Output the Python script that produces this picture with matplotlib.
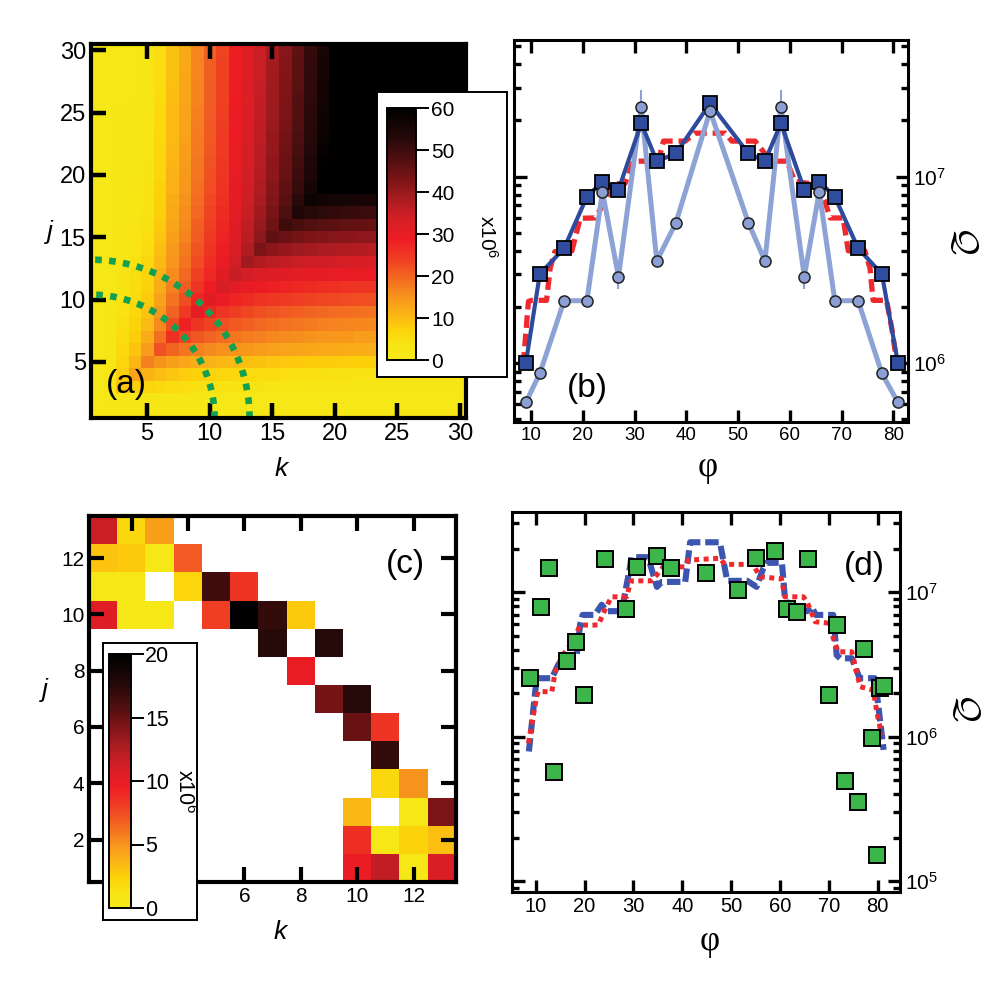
import numpy as np
import matplotlib
matplotlib.use('Agg')
import matplotlib.pyplot as plt
import matplotlib.colors as mcolors
from matplotlib.ticker import NullFormatter

plt.rcParams['font.family'] = ['Liberation Sans', 'DejaVu Sans']
plt.rcParams['mathtext.default'] = 'regular'

# ---------------- data ----------------
# (a) Q map in units of 1e6
# value in column k near the top edge (cells above the diagonal)
col_top = [1.5, 1.5, 1.5, 1.5, 2, 5, 9, 12, 16, 20, 23, 28, 31, 34, 38,
           41, 45, 50, 54, 62, 62, 62, 62, 62, 62, 62, 62, 62, 62, 62]
# value in row j far to the right (cells below the diagonal)
row_edge = [1.5, 1.5, 2, 3.5, 7, 11, 13, 15, 17, 21, 24, 28, 31, 35, 39,
            43, 48, 54, 62, 62, 62, 62, 62, 62, 62, 62, 62, 62, 62, 62]
# value on the diagonal j = k
diag = [1.5, 2, 9, 13, 17, 22, 26, 28, 30, 31, 33, 35, 39, 43, 46,
        50, 54, 57, 62, 62, 62, 62, 62, 62, 62, 62, 62, 62, 62, 62]
# how much of the diagonal excess is left at distance |j-k|
fade = [1, .8, .65, .55, .47, .4, .35, .3, .26, .22, .19, .16, .14, .12, .1,
        .08, .07, .06, .05, .04, .03, .02, .02, .01, .01, 0, 0, 0, 0, 0]
arc_radii = [9.9, 12.7]

# (b)
b_phi = [9.0, 11.7, 16.4, 20.8, 23.8, 26.9, 31.3, 34.3, 38.0, 44.6,
         52.0, 55.2, 58.3, 62.8, 65.7, 68.7, 73.2, 77.8, 80.9]
b_sq = [1.0e6, 3.0e6, 4.13e6, 7.8e6, 9.4e6, 8.5e6, 1.93e7, 1.21e7, 1.33e7, 2.47e7,
        1.33e7, 1.21e7, 1.93e7, 8.5e6, 9.4e6, 7.8e6, 4.13e6, 3.0e6, 1.0e6]
b_circ = [6.15e5, 8.8e5, 2.16e6, 2.16e6, 8.3e6, 2.91e6, 2.37e7, 3.53e6, 5.66e6, 2.25e7,
          5.66e6, 3.53e6, 2.37e7, 2.91e6, 8.3e6, 2.16e6, 2.16e6, 8.8e5, 6.15e5]
b_err_phi = [31.3, 58.3, 26.9, 62.8]
b_err_lo = [2.37e7, 2.37e7, 2.5e6, 2.5e6]
b_err_hi = [2.9e7, 2.9e7, 2.91e6, 2.91e6]
b_red_phi = [8.5, 9.5, 10.1, 13.0, 13.7, 14.6, 17.9, 19.5, 22.4, 24.3, 25.6, 28.2,
             29.8, 34.6, 35.6, 39.8, 41.7, 47.5, 48.8, 53.3, 54.9, 56.5, 59.4, 61.0,
             64.9, 66.8, 67.8, 70.3, 71.3, 74.5, 75.5, 76.1, 78.7, 79.7, 80.7]
b_red_q = [9.8e5, 2.14e6, 2.17e6, 2.17e6, 3.23e6, 3.96e6, 4.0e6, 5.98e6, 6.0e6, 7.35e6,
           9.1e6, 9.2e6, 1.21e7, 1.21e7, 1.55e7, 1.55e7, 1.71e7, 1.71e7, 1.55e7, 1.55e7,
           1.36e7, 1.21e7, 1.21e7, 9.4e6, 9.1e6, 7.35e6, 6.0e6, 6.0e6, 4.0e6, 4.0e6,
           3.23e6, 2.17e6, 2.17e6, 1.54e6, 1.0e6]

# (c) sparse Q map, units of 1e6
c_k = [1, 2, 3, 1, 2, 3, 4, 1, 2, 4, 5, 6, 1, 2, 3, 5, 6, 7, 8, 7, 9, 8,
       9, 10, 10, 11, 11, 11, 12, 10, 12, 13, 10, 11, 12, 13, 10, 11, 12, 13]
c_j = [13, 13, 13, 12, 12, 12, 12, 11, 11, 11, 11, 11, 10, 10, 10, 10, 10, 10, 10, 9, 9, 8,
       7, 7, 6, 6, 5, 4, 4, 3, 3, 3, 2, 2, 2, 2, 1, 1, 1, 1]
c_val = [11.5, 2, 4.5, 3, 2.8, 0.5, 7, 0.5, 0.5, 2.2, 16.5, 8.5, 10.5, 0.5, 0.5, 8, 20, 17, 2.8,
         17.5, 17.5, 9.8, 14.5, 17.5, 15, 8.5, 17, 2, 5, 3.5, 0.5, 14.3, 8.8, 0.5, 2.3, 3.2,
         9.7, 11.8, 0.5, 10.8]

# (d)
d_phi = [8.8, 11.1, 12.8, 13.8, 16.4, 18.2, 19.9, 24.2, 28.4, 30.7, 34.8, 37.7, 44.9,
         51.5, 55.0, 59.0, 61.4, 63.4, 65.7, 70.0, 71.6, 73.3, 76.0, 77.1, 78.8, 79.8,
         80.5, 81.2]
d_q = [2.56e6, 7.95e6, 1.47e7, 5.66e5, 3.36e6, 4.55e6, 1.94e6, 1.70e7, 7.66e6, 1.49e7,
       1.77e7, 1.47e7, 1.35e7, 1.04e7, 1.72e7, 1.94e7, 7.66e6, 7.35e6, 1.70e7, 1.94e6,
       5.93e6, 4.92e5, 3.51e5, 4.05e6, 9.73e5, 1.51e5, 2.18e6, 2.26e6]
d_blue_phi = [8.6, 10.0, 10.3, 13.3, 14.3, 15.3, 17.7, 18.4, 19.1, 19.6, 22.1, 23.5, 24.5,
              27.6, 29.3, 29.6, 33.0, 34.8, 35.8, 40.6, 41.6, 47.7, 49.2, 53.3, 55.2, 56.6,
              57.2, 60.4, 61.0, 62.5, 65.5, 66.5, 67.3, 70.9, 71.6, 72.3, 74.7, 76.3, 79.4,
              80.1, 81.2]
d_blue_q = [7.9e5, 2.2e6, 2.54e6, 2.54e6, 3.0e6, 3.49e6, 3.49e6, 3.67e6, 6.0e6, 6.97e6,
            6.97e6, 8.2e6, 7.4e6, 7.4e6, 1.5e7, 1.75e7, 1.75e7, 1.09e7, 1.18e7, 1.18e7,
            2.22e7, 2.22e7, 1.2e7, 1.2e7, 1.09e7, 1.47e7, 1.6e7, 1.6e7, 9.1e6, 7.4e6,
            7.4e6, 7.95e6, 6.97e6, 6.97e6, 3.67e6, 3.49e6, 3.49e6, 2.54e6, 2.54e6,
            1.66e6, 8.1e5]
d_red_phi = [8.5, 10.2, 10.5, 13.3, 14.0, 15.3, 17.5, 19.1, 22.8, 24.2, 25.5, 28.6, 29.5,
             33.7, 34.8, 36.1, 40.5, 41.2, 47.7, 48.7, 54.5, 55.9, 60.3, 61.0, 64.8, 65.6,
             67.2, 70.2, 70.9, 71.9, 74.7, 76.4, 79.1, 79.8, 80.8]
d_red_q = [9.0e5, 1.89e6, 2.05e6, 2.05e6, 2.82e6, 3.58e6, 4.5e6, 5.93e6, 5.93e6, 7.6e6,
           9.3e6, 9.3e6, 1.2e7, 1.2e7, 1.32e7, 1.5e7, 1.5e7, 1.67e7, 1.72e7, 1.56e7,
           1.56e7, 1.28e7, 1.24e7, 9.3e6, 9.3e6, 8.5e6, 6.25e6, 6.1e6, 4.8e6, 3.87e6,
           3.87e6, 2.22e6, 2.1e6, 1.49e6, 1.03e6]

# ---------------- style ----------------
cmap = mcolors.LinearSegmentedColormap.from_list('yrk', [
    (0.00, '#f5e91a'), (0.06, '#f9e413'), (0.12, '#fdd20a'), (0.18, '#fbb416'),
    (0.25, '#f7941d'), (0.33, '#f26522'), (0.40, '#ef3e23'), (0.48, '#ed1c24'),
    (0.56, '#d41f26'), (0.64, '#a81c21'), (0.72, '#7a1416'), (0.80, '#4e0f10'),
    (0.88, '#260909'), (1.00, '#000000')])
dark_blue = '#2d4a9c'
light_blue = '#8ea3d5'
red = '#ee2a2f'
green = '#3cb54a'
arc_green = '#13a050'


def style_axes(ax, lw=2.2, size=14, length=9, width=2.4):
    for s in ax.spines.values():
        s.set_linewidth(lw)
    ax.tick_params(which='both', direction='in', top=True, right=True,
                   labelsize=size, width=width)
    ax.tick_params(which='major', length=length)
    ax.tick_params(which='minor', length=length * 0.55)


def add_cbar(fig, im, box_rect, bar_rect, ticks, label_xy, size, pad=2):
    box = fig.add_axes(box_rect)
    box.set_xticks([])
    box.set_yticks([])
    for s in box.spines.values():
        s.set_linewidth(1.4)
    box.set_zorder(5)
    cax = fig.add_axes(bar_rect)
    cax.set_zorder(6)
    cb = fig.colorbar(im, cax=cax, ticks=ticks)
    cb.outline.set_linewidth(1.4)
    cb.ax.tick_params(labelsize=size, length=9, width=1.4, pad=pad)
    fig.text(label_xy[0], label_xy[1], 'x10$^{6}$', rotation=-90, ha='center',
             va='center', fontsize=size, zorder=10)


fig = plt.figure(figsize=(10, 10), dpi=100)

# ---------------- (a) ----------------
n = len(col_top)
grid_a = np.zeros((n, n))
for j in range(n):
    for k in range(n):
        m = min(j, k)
        base = col_top[m] if j > k else row_edge[m]
        grid_a[j, k] = base + (diag[m] - base) * fade[abs(j - k)]

ax_a = fig.add_axes([0.0907, 0.582, 0.3753, 0.374])
im_a = ax_a.imshow(grid_a, origin='lower', extent=(0.5, n + 0.5, 0.5, n + 0.5),
                   cmap=cmap, vmin=0, vmax=60, aspect='auto', interpolation='nearest')
t = np.linspace(0, np.pi / 2, 200)
for r in arc_radii:
    ax_a.plot(0.5 + r * np.cos(t), 0.5 + r * np.sin(t), color=arc_green, lw=4.8,
              ls=(0, (1, 1.1)))
ax_a.set_xlim(0.5, n + 0.5)
ax_a.set_ylim(0.5, n + 0.5)
ax_a.set_xticks(range(5, 31, 5))
ax_a.set_yticks(range(5, 31, 5))
style_axes(ax_a, lw=3, size=17, length=11, width=3.2)
add_cbar(fig, im_a, [0.3767, 0.6233, 0.13, 0.285], [0.3867, 0.64, 0.0293, 0.252],
         range(0, 61, 10), (0.487, 1 - 0.237), 15)
fig.text(0.126, 1 - 0.384, '(a)', fontsize=24, ha='center', va='center', zorder=10)
fig.text(0.281, 1 - 0.469, 'k', fontsize=19, style='italic', ha='center', va='center')
fig.text(0.050, 1 - 0.232, 'j', fontsize=19, style='italic', ha='center', va='center')

# ---------------- (b) ----------------
ax_b = fig.add_axes([0.5143, 0.5783, 0.394, 0.3817])
ax_b.set_yscale('log')
ax_b.plot(b_red_phi, b_red_q, color=red, lw=3.8, ls=(0, (2.4, 1.1)), zorder=2)
ax_b.vlines(b_err_phi, b_err_lo, b_err_hi, color=light_blue, lw=1.5, zorder=2)
ax_b.plot(b_phi, b_circ, color=light_blue, lw=3.6, zorder=3)
ax_b.plot(b_phi, b_sq, color=dark_blue, lw=3, marker='s', ms=10.5, mfc='#2f4c9f',
          mec='black', mew=1.3, zorder=4)
ax_b.plot(b_phi, b_circ, ls='none', marker='o', ms=8, mfc='#8b9fd4', mec='#222222',
          mew=1.1, zorder=5)
ax_b.set_xlim(6.77, 82.9)
ax_b.set_ylim(4.85e5, 5.4e7)
ax_b.set_xticks(range(10, 81, 10))
style_axes(ax_b, lw=2.2, size=13.5, length=9, width=2.4)
ax_b.tick_params(axis='y', labelleft=False, labelright=True, labelsize=15)
ax_b.yaxis.set_minor_formatter(NullFormatter())
fig.text(0.587, 1 - 0.389, '(b)', fontsize=24, ha='center', va='center')
fig.text(0.708, 1 - 0.467, 'φ', fontsize=25, family='Liberation Serif',
         ha='center', va='center')
fig.text(0.964, 1 - 0.240, r'$\mathcal{Q}$', fontsize=25, rotation=-90,
         math_fontfamily='cm', ha='center', va='center')

# ---------------- (c) ----------------
nc = 13
grid_c = np.full((nc, nc), np.nan)
for k, j, v in zip(c_k, c_j, c_val):
    grid_c[j - 1, k - 1] = v
ax_c = fig.add_axes([0.0893, 0.1183, 0.3667, 0.3657])
im_c = ax_c.imshow(np.ma.masked_invalid(grid_c), origin='lower',
                   extent=(0.5, nc + 0.5, 0.5, nc + 0.5), cmap=cmap, vmin=0, vmax=20,
                   aspect='auto', interpolation='nearest')
ax_c.set_xlim(0.5, nc + 0.5)
ax_c.set_ylim(0.5, nc + 0.5)
ax_c.set_xticks(range(2, 13, 2))
ax_c.set_yticks(range(2, 13, 2))
style_axes(ax_c, lw=3, size=15, length=11, width=3)
add_cbar(fig, im_c, [0.1027, 0.08, 0.094, 0.2773], [0.109, 0.092, 0.022, 0.254],
         range(0, 21, 5), (0.184, 1 - 0.791), 15.5, pad=1)
fig.text(0.405, 1 - 0.564, '(c)', fontsize=24, ha='center', va='center')
fig.text(0.280, 1 - 0.932, 'k', fontsize=19, style='italic', ha='center', va='center')
fig.text(0.045, 1 - 0.690, 'j', fontsize=19, style='italic', ha='center', va='center')

# ---------------- (d) ----------------
ax_d = fig.add_axes([0.5123, 0.1077, 0.3877, 0.38])
ax_d.set_yscale('log')
ax_d.plot(d_blue_phi, d_blue_q, color='#3b55b0', lw=4.4, ls=(0, (2.2, 0.8)), zorder=2)
ax_d.plot(d_red_phi, d_red_q, color=red, lw=3.6, ls=(0, (1, 0.9)), zorder=3)
ax_d.plot(d_phi, d_q, ls='none', marker='s', ms=12, mfc=green, mec='black',
          mew=1.4, zorder=4)
ax_d.set_xlim(5.21, 84.56)
ax_d.set_ylim(8.36e4, 3.58e7)
ax_d.set_xticks(range(10, 81, 10))
style_axes(ax_d, lw=2.2, size=14.5, length=9, width=2.4)
ax_d.tick_params(axis='y', labelleft=False, labelright=True, labelsize=15)
ax_d.yaxis.set_minor_formatter(NullFormatter())
fig.text(0.864, 1 - 0.567, '(d)', fontsize=24, ha='center', va='center')
fig.text(0.710, 1 - 0.942, 'φ', fontsize=25, family='Liberation Serif',
         ha='center', va='center')
fig.text(0.966, 1 - 0.707, r'$\mathcal{Q}$', fontsize=25, rotation=-90,
         math_fontfamily='cm', ha='center', va='center')

fig.savefig('out.png', dpi=100)
